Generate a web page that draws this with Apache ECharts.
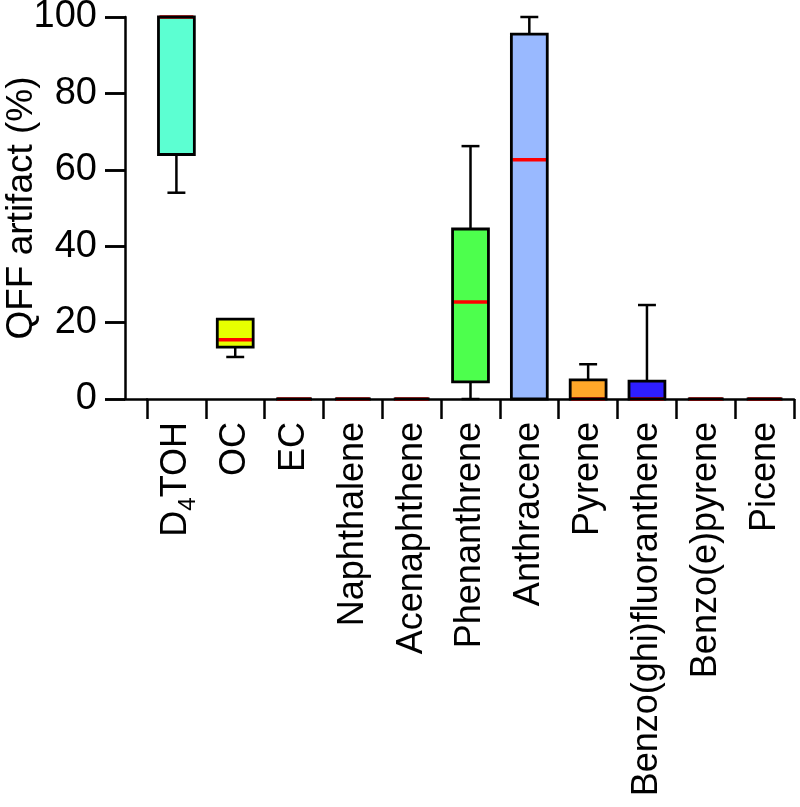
<!DOCTYPE html>
<html>
<head>
<meta charset="utf-8">
<script src="https://cdn.jsdelivr.net/npm/echarts@6/dist/echarts.min.js"></script>
<style>
  html, body { margin: 0; padding: 0; background: #fff; }
  #chart { width: 800px; height: 807px; }
</style>
</head>
<body>
<div id="chart"></div>
<script>
const categories = ['D4TOH', 'OC', 'EC', 'Naphthalene', 'Acenaphthene', 'Phenanthrene',
  'Anthracene', 'Pyrene', 'Benzo(ghi)fluoranthene', 'Benzo(e)pyrene', 'Picene'];
const whiskerLow  = [54,  11,   0, 0, 0,  0,    0,    0,   0,    0, 0];
const q1          = [64,  13.6, 0, 0, 0,  4.5,  0,    0,   0,    0, 0];
const medians     = [100, 15.5, 0, 0, 0,  25.4, 62.6, 0,   0,    0, 0];
const q3          = [100, 20.9, 0, 0, 0,  44.5, 95.5, 5,   4.7,  0, 0];
const whiskerHigh = [100, 20.9, 0, 0, 0,  66.2, 100,  9.1, 24.6, 0, 0];
const boxColors = ['#5CFFD2', '#E6FF00', '#000000', '#000000', '#000000', '#4DFF4D',
  '#99B9FF', '#FFA729', '#2E1EFF', '#000000', '#000000'];

const FONT = "'Liberation Sans', Arial, sans-serif";
const chart = echarts.init(document.getElementById('chart'));

function renderBox(params, api) {
  const i = api.value(0);
  const bw = api.size([1, 0])[0] * 0.61;
  const cx = api.coord([i, 0])[0];
  const y = (k) => api.coord([i, api.value(k)])[1];
  const yLo = y(1), yQ1 = y(2), yMed = y(3), yQ3 = y(4), yHi = y(5);
  const black = { stroke: '#000', lineWidth: 2.5 };
  const children = [];
  if (yHi < yQ3 - 0.5) {
    children.push({ type: 'line', shape: { x1: cx, y1: yQ3, x2: cx, y2: yHi }, style: black });
    children.push({ type: 'line', shape: { x1: cx - bw / 4, y1: yHi, x2: cx + bw / 4, y2: yHi }, style: black });
  }
  if (yLo > yQ1 + 0.5) {
    children.push({ type: 'line', shape: { x1: cx, y1: yQ1, x2: cx, y2: yLo }, style: black });
    children.push({ type: 'line', shape: { x1: cx - bw / 4, y1: yLo, x2: cx + bw / 4, y2: yLo }, style: black });
  }
  const rect = { x: cx - bw / 2, y: yQ3, width: bw, height: yQ1 - yQ3 };
  children.push({ type: 'rect', shape: rect, style: { fill: boxColors[i] } });
  children.push({ type: 'line', shape: { x1: cx - bw / 2 + 1, y1: yMed, x2: cx + bw / 2 - 1, y2: yMed },
    style: { stroke: '#ff0000', lineWidth: 3.5 } });
  children.push({ type: 'rect', shape: rect, style: { fill: 'none', stroke: '#000', lineWidth: 2.8 } });
  return { type: 'group', children };
}

const tickLine = { color: '#000', width: 2.5 };

chart.setOption({
  animation: false,
  grid: [
    // plot area
    { left: 147, right: 6, top: 17, bottom: 408, outerBoundsMode: 'none' },
    // gap between the y axis and the first category
    { left: 125, width: 22, top: 17, bottom: 408, outerBoundsMode: 'none' },
    // strip left of the y axis holding the ticks
    { left: 105, width: 20, top: 17, bottom: 408, outerBoundsMode: 'none' },
  ],
  xAxis: [
    {
      type: 'category',
      gridIndex: 0,
      data: categories,
      boundaryGap: true,
      offset: 3,
      axisLine: { show: true, lineStyle: tickLine },
      axisTick: { show: true, interval: 0, length: 20, lineStyle: tickLine },
      axisLabel: {
        rotate: 90,
        margin: 20,
        color: '#000',
        fontSize: 36,
        fontFamily: FONT,
        interval: 0,
        formatter: (v) => v === 'D4TOH' ? '{n|D}{s|4}{n|TOH}' : v,
        rich: {
          n: { fontSize: 36, fontFamily: FONT, color: '#000', lineHeight: 40 },
          s: { fontSize: 24, fontFamily: FONT, color: '#000', lineHeight: 24, verticalAlign: 'bottom', padding: [0, 0, -4, 0] },
        },
      },
      splitLine: { show: false },
    },
    {
      type: 'value',
      gridIndex: 1,
      offset: 3,
      axisLine: { show: true, lineStyle: tickLine },
      axisTick: { show: false },
      axisLabel: { show: false },
      splitLine: { show: false },
    },
    { type: 'value', gridIndex: 2, show: false },
  ],
  yAxis: [
    { type: 'value', gridIndex: 0, min: 0, max: 100, show: false },
    {
      type: 'value',
      gridIndex: 1,
      min: 0,
      max: 100,
      interval: 20,
      axisLine: { show: true, lineStyle: tickLine },
      axisTick: { show: true, length: 20, lineStyle: tickLine },
      axisLabel: { color: '#000', fontSize: 38, fontFamily: FONT, margin: 28 },
      splitLine: { show: false },
      name: 'QFF artifact (%)',
      nameLocation: 'middle',
      nameGap: 85,
      nameMoveOverlap: false,
      nameTextStyle: { color: '#000', fontSize: 37, fontFamily: FONT },
    },
    {
      type: 'value',
      gridIndex: 2,
      min: 0,
      max: 100,
      interval: 20,
      axisLine: { show: false },
      axisTick: { show: false },
      axisLabel: { show: false },
      splitLine: { show: true, lineStyle: tickLine },
    },
  ],
  series: [
    {
      type: 'custom',
      xAxisIndex: 0,
      yAxisIndex: 0,
      renderItem: renderBox,
      encode: { x: 0, y: [1, 2, 3, 4, 5] },
      data: categories.map((c, i) => [i, whiskerLow[i], q1[i], medians[i], q3[i], whiskerHigh[i]]),
    },
  ],
});
</script>
</body>
</html>
